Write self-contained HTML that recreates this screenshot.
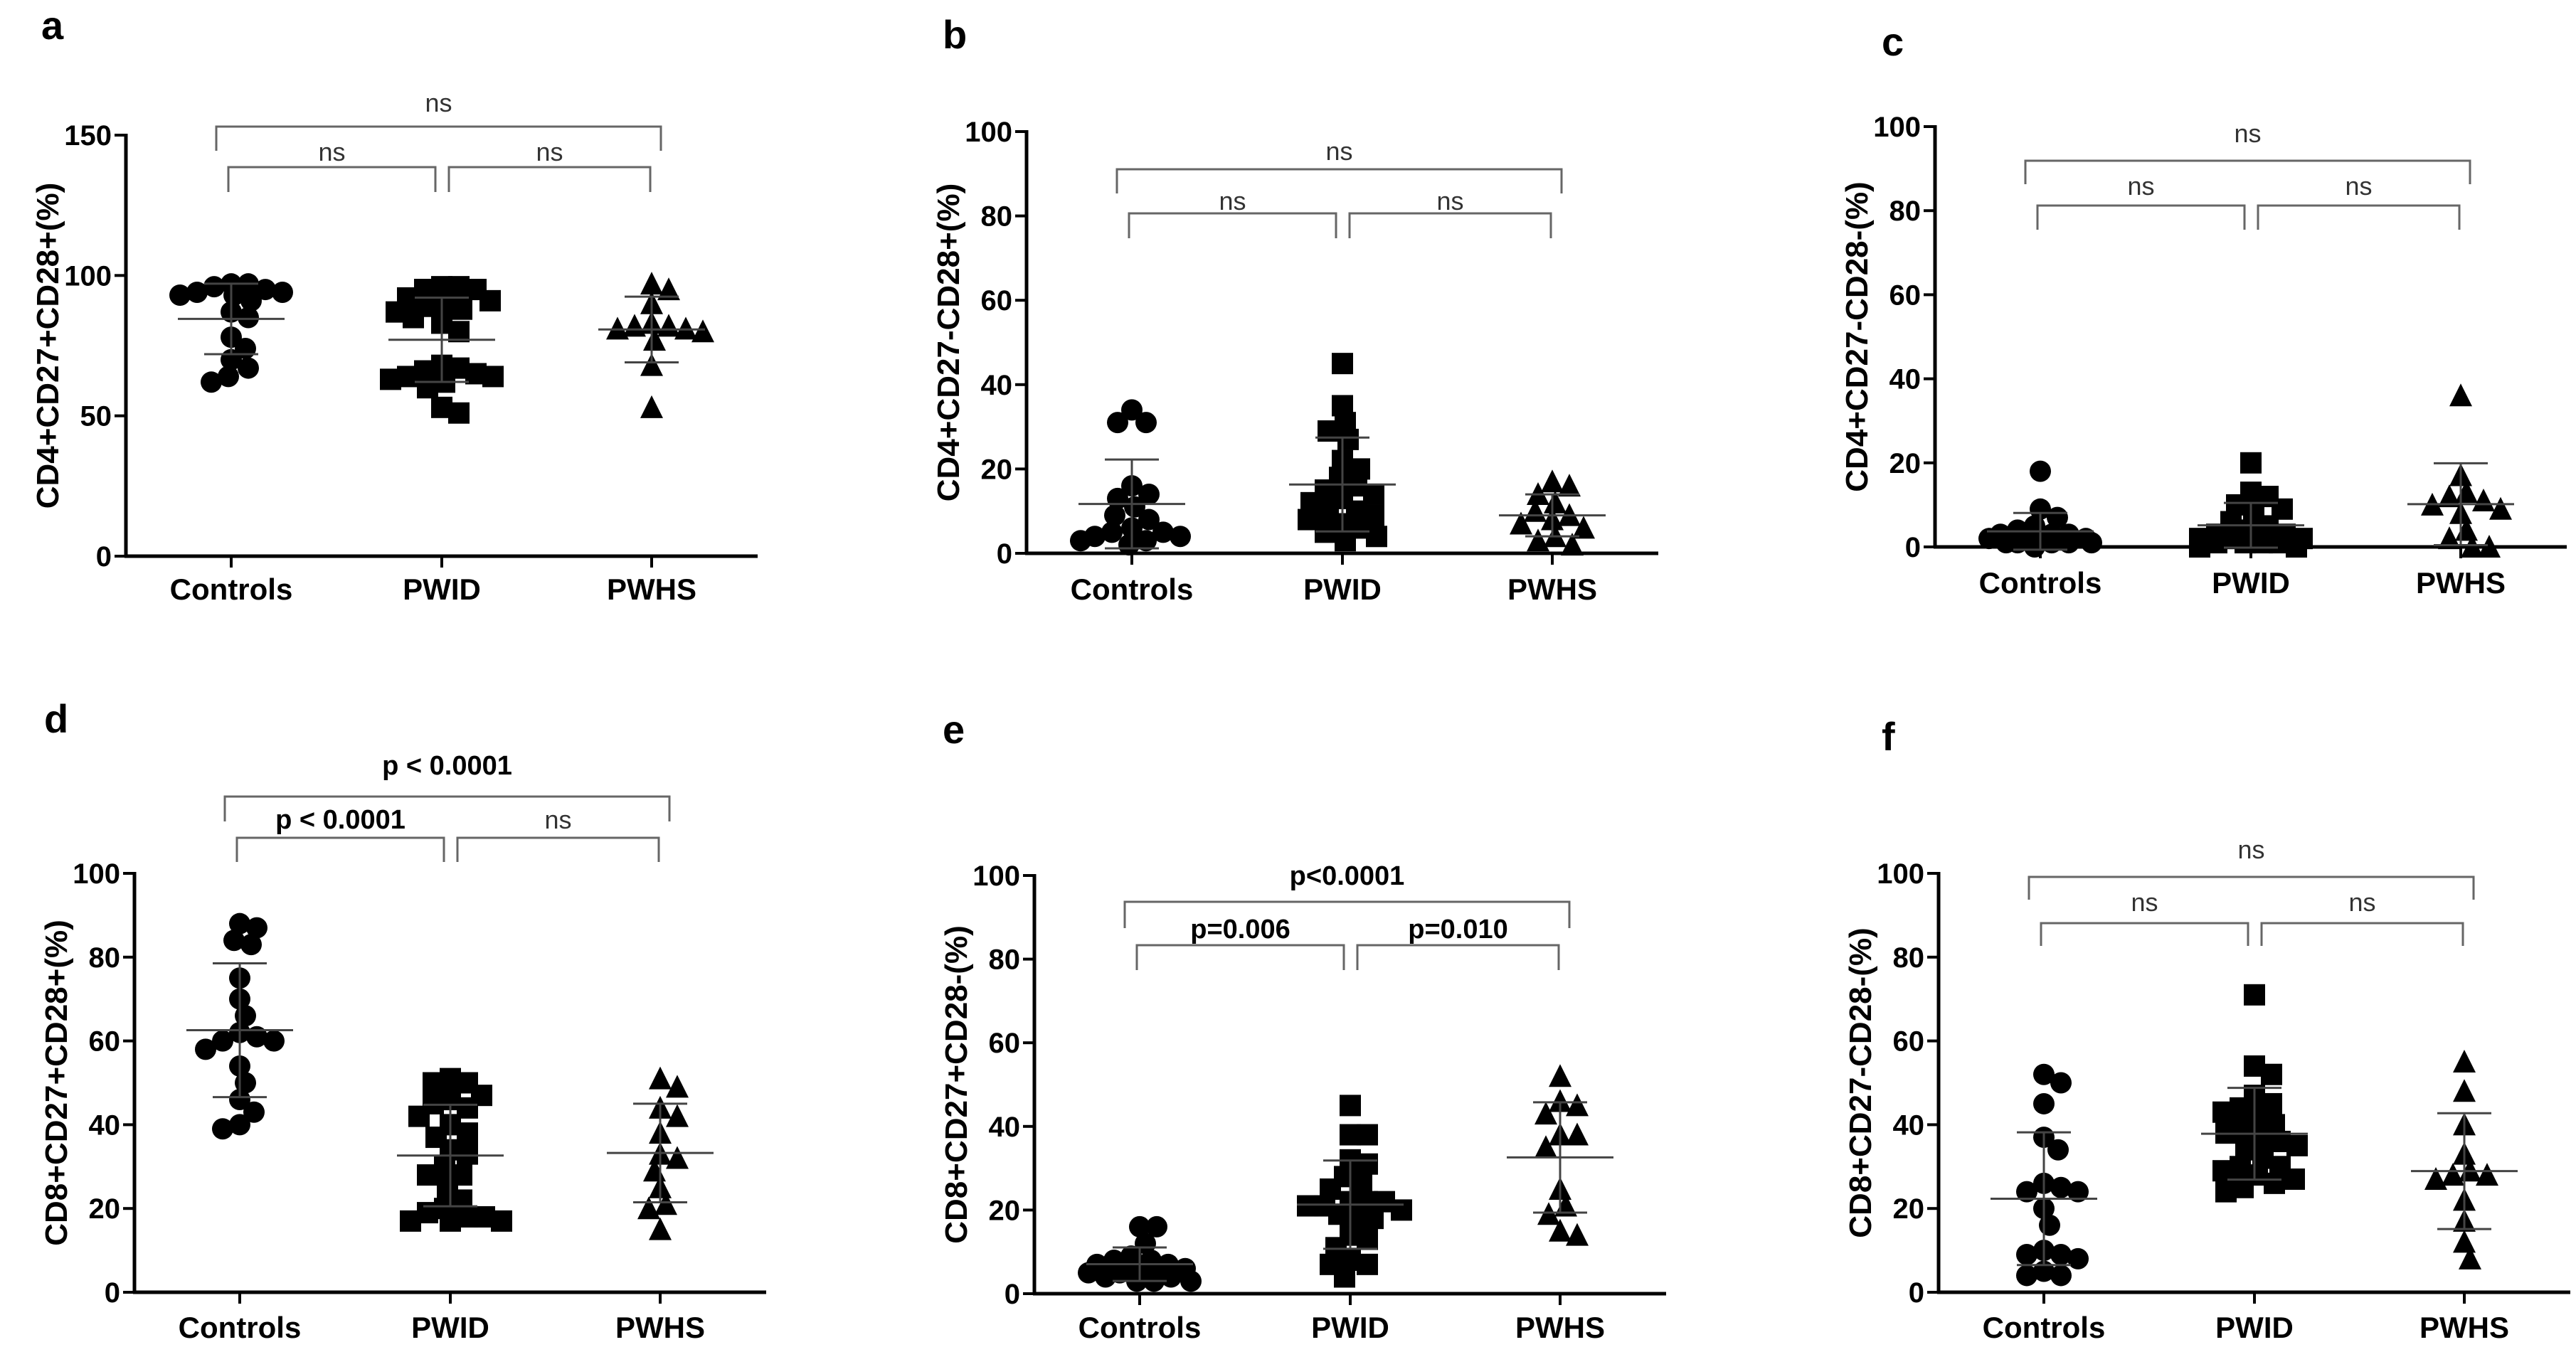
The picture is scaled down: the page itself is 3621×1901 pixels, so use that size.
<!DOCTYPE html>
<html><head><meta charset="utf-8"><style>
html,body{margin:0;padding:0;background:#fff;}
svg{display:block;font-family:"Liberation Sans",Arial,sans-serif;}
</style></head><body>
<svg id="fig" width="3621" height="1901" viewBox="0 0 3621 1901" xmlns="http://www.w3.org/2000/svg"></svg>
<script>
const categories = ["Controls","PWID","PWHS"];
// Panel a
const aControls = [94,94,97,96,97,93,95,93,91,87,85,78,74,70,67,62,64];
const aPWID = [96,96,95,95,92,91,90,89,88,87,85,83,80,68,67,66,65,64,63,64,62,60,53,51];
const aPWHS = [95,97,90,83,82,82,81,81,80,77,68,53];
// Panel b
const bControls = [34,31,31,16,14,13,11,9,8,6,5,5,4,4,3,3,2];
const bPWID = [45,35,31,29,27,22,20,18,16,15,14,13,12,10,10,9,8,7,6,5,4,3];
const bPWHS = [17,16,14,12,10,9,8,7,6,4,3,2];
// Panel c
const cControls = [18,9,7,5,4,3,3,3,2,2,2,1,1,1,1,1,0];
const cPWID = [20,13,12,10,9,8,6,5,4,3,3,2,2,2,1,1,1,1,0,0];
const cPWHS = [36,17,13,12,11,10,9,8,4,2,0,0];
// Panel d
const dControls = [88,87,84,83,75,70,66,62,61,60,60,58,54,50,46,43,40,39];
const dPWID = [51,50,50,47,46,45,44,42,40,38,37,34,33,30,28,28,25,22,20,19,18,18,17,17,17];
const dPWHS = [51,49,44,42,38,33,32,29,25,21,20,15];
// Panel e
const eControls = [16,16,12,9,8,8,7,7,6,6,5,5,5,4,4,3,3,3];
const ePWID = [45,38,38,32,31,28,27,25,22,22,22,21,21,20,19,18,18,14,13,11,8,7,7,4];
const ePWHS = [52,46,45,43,38,38,35,25,21,19,15,14];
// Panel f
const fControls = [52,50,45,37,34,26,25,24,24,20,16,10,9,9,8,5,4,4];
const fPWID = [71,54,52,47,45,44,43,42,40,39,38,37,36,35,34,32,30,30,29,28,27,26,25,24];
const fPWHS = [55,48,40,33,29,28,28,27,22,17,12,8];
// Tick labels
const ticksA = [0,50,100,150];
const ticks100 = [0,20,40,60,80,100];
// Titles and annotations
const yTitles = ["CD4+CD27+CD28+(%)","CD4+CD27-CD28+(%)","CD4+CD27-CD28-(%)","CD8+CD27+CD28+(%)","CD8+CD27+CD28-(%)","CD8+CD27-CD28-(%)"];
const sigA = ["ns","ns","ns"], sigB = ["ns","ns","ns"], sigC = ["ns","ns","ns"];
const sigD = ["p < 0.0001","p < 0.0001","ns"], sigE = ["p<0.0001","p=0.006","p=0.010"], sigF = ["ns","ns","ns"];

const NS = "http://www.w3.org/2000/svg";
const svg = document.getElementById('fig');
function mk(tag, attrs, parent){
  const e = document.createElementNS(NS, tag);
  for (const k in attrs) e.setAttribute(k, attrs[k]);
  (parent||svg).appendChild(e);
  return e;
}

const panels = [
  {id:'a', letter:[58,55], ax:177, y0:782, y1:190, max:150, ticks:ticksA, data:[aControls,aPWID,aPWHS], title:yTitles[0], sig:sigA, br:{top:178,topDrop:212,inner:235,innerDrop:270,l1:144,l2:213}, lab:843},
  {id:'b', letter:[1325,68], ax:1443, y0:778, y1:185, max:100, ticks:ticks100, data:[bControls,bPWID,bPWHS], title:yTitles[1], sig:sigB, br:{top:238,topDrop:272,inner:300,innerDrop:335,l1:212,l2:282}, lab:843},
  {id:'c', letter:[2645,78], ax:2720, y0:769, y1:178, max:100, ticks:ticks100, data:[cControls,cPWID,cPWHS], title:yTitles[2], sig:sigC, br:{top:226,topDrop:259,inner:289,innerDrop:323,l1:187,l2:261}, lab:834},
  {id:'d', letter:[62,1030], ax:189, y0:1817, y1:1228, max:100, ticks:ticks100, data:[dControls,dPWID,dPWHS], title:yTitles[3], sig:sigD, br:{top:1120,topDrop:1155,inner:1178,innerDrop:1212,l1:1076,l2:1152}, lab:1881},
  {id:'e', letter:[1325,1045], ax:1454, y0:1819, y1:1231, max:100, ticks:ticks100, data:[eControls,ePWID,ePWHS], title:yTitles[4], sig:sigE, br:{top:1268,topDrop:1305,inner:1329,innerDrop:1364,l1:1231,l2:1306}, lab:1881},
  {id:'f', letter:[2645,1055], ax:2725, y0:1817, y1:1228, max:100, ticks:ticks100, data:[fControls,fPWID,fPWHS], title:yTitles[5], sig:sigF, br:{top:1233,topDrop:1265,inner:1298,innerDrop:1330,l1:1194,l2:1268}, lab:1881}
];
const catOff = [148,444,739];
const markers = ['circle','square','triangle'];
const MS = 30;
const MAXOFF = 72;

function swarm(vals, yf){
  const idx = vals.map((v,i)=>i).sort((p,q)=>vals[q]-vals[p]);
  const placed = []; const xs = new Array(vals.length);
  idx.forEach(i=>{
    const y = yf(vals[i]);
    let best = null, bestOv = Infinity, bestOff = 0;
    for (let k=0;k<40;k++){
      const cand = k===0?0:(k%2?1:-1)*Math.ceil(k/2)*4;
      if (Math.abs(cand)>MAXOFF) break;
      let ov = 0;
      placed.forEach(p=>{const d=Math.hypot(p[0]-cand,p[1]-y); if(d<MS*0.8) ov+=MS*0.8-d;});
      if (ov===0){best=cand;break;}
      if (ov<bestOv){bestOv=ov;bestOff=cand;}
    }
    if (best===null) best=bestOff;
    placed.push([best,y]); xs[i]=best;
  });
  return xs;
}

panels.forEach(P=>{
  const g = mk('g',{});
  
  
  const yf = v => P.y0 - (v/P.max)*(P.y0-P.y1);
  const t = mk('text',{x:P.letter[0],y:P.letter[1],'font-size':56,'font-weight':'bold',fill:'#000'},g);
  t.textContent = P.id;
  
  
  const cy = (P.y0+P.y1)/2, tx = P.ax-110;
  const yt = mk('text',{x:tx,y:cy,'font-size':44,'font-weight':'bold','text-anchor':'middle',transform:`rotate(-90 ${tx} ${cy})`,dy:15,fill:'#000'},g);
  yt.textContent = P.title;
  
  
  const ya = mk('line',{x1:P.ax,y1:P.y1-2,x2:P.ax,y2:P.y0+2,stroke:'#000','stroke-width':5},g);
  
  
  const xa = mk('line',{x1:P.ax-2,y1:P.y0,x2:P.ax+888,y2:P.y0,stroke:'#000','stroke-width':5},g);
  
  
  P.ticks.forEach(tv=>{
    const y = yf(tv);
    mk('line',{x1:P.ax-16,y1:y,x2:P.ax,y2:y,stroke:'#000','stroke-width':4},g);
    const tl = mk('text',{x:P.ax-20,y:y+14,'font-size':40,'font-weight':'bold','text-anchor':'end',fill:'#000'},g);
    tl.textContent = tv;
    
    
  });
  categories.forEach((c,ci)=>{
    const x = P.ax+catOff[ci];
    mk('line',{x1:x,y1:P.y0,x2:x,y2:P.y0+16,stroke:'#000','stroke-width':4},g);
    const xl = mk('text',{x:x,y:P.lab,'font-size':42,'font-weight':'bold','text-anchor':'middle',fill:'#000'},g);
    xl.textContent = c;
    
    
  });
  const B = P.br, bc = '#666';
  const brs = [[127,752,B.top,B.topDrop,B.l1,P.sig[0]],[144,435,B.inner,B.innerDrop,B.l2,P.sig[1]],[454,737,B.inner,B.innerDrop,B.l2,P.sig[2]]];
  brs.forEach(b=>{
    const x1=P.ax+b[0], x2=P.ax+b[1];
    const pl = mk('polyline',{points:`${x1},${b[3]} ${x1},${b[2]} ${x2},${b[2]} ${x2},${b[3]}`,fill:'none',stroke:bc,'stroke-width':3},g);
    
    
    const isNs = b[5]==='ns';
    const st = mk('text',{x:(x1+x2)/2,y:b[4]+13,'font-size':isNs?36:38,'font-weight':isNs?'normal':'bold','text-anchor':'middle',fill:isNs?'#333':'#000'},g);
    st.textContent = b[5];
    
    
  });
  P.data.forEach((vals,ci)=>{
    const cx = P.ax+catOff[ci];
    const xs = swarm(vals,yf);
    vals.forEach((v,i)=>{
      const x = cx+xs[i], y = yf(v); let m;
      if (markers[ci]==='circle') m = mk('circle',{cx:x,cy:y,r:MS/2,fill:'#000'},g);
      else if (markers[ci]==='square') m = mk('rect',{x:x-MS/2,y:y-MS/2,width:MS,height:MS,fill:'#000'},g);
      else m = mk('polygon',{points:`${x},${y-MS/2-2} ${x+MS/2+1},${y+MS/2} ${x-MS/2-1},${y+MS/2}`,fill:'#000'},g);
      
      
    });
    const mean = vals.reduce((s,v)=>s+v,0)/vals.length;
    const sd = Math.sqrt(vals.reduce((s,v)=>s+(v-mean)**2,0)/(vals.length-1));
    const ym=yf(mean), yh=yf(mean+sd), yl=yf(mean-sd);
    const eg = mk('g',{stroke:'#444','stroke-width':3},g);
    
    
    mk('line',{x1:cx-75,y1:ym,x2:cx+75,y2:ym},eg);
    mk('line',{x1:cx,y1:yh,x2:cx,y2:yl},eg);
    mk('line',{x1:cx-38,y1:yh,x2:cx+38,y2:yh},eg);
    mk('line',{x1:cx-38,y1:yl,x2:cx+38,y2:yl},eg);
  });
});
</script>
</body></html>
